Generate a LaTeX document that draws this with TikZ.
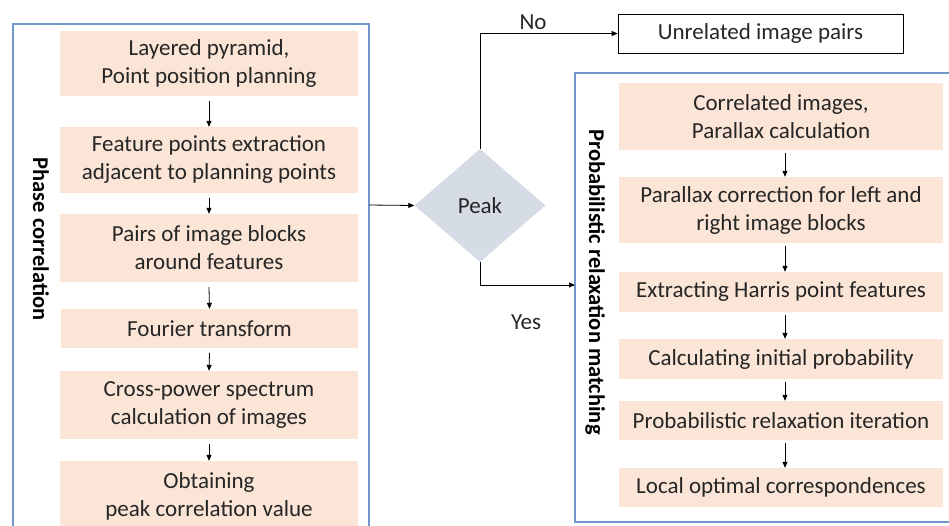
\documentclass[tikz,border=0pt]{standalone}
\usepackage{fontspec}
\setmainfont{Carlito}
\usetikzlibrary{arrows.meta,shapes.geometric}
\definecolor{peach}{HTML}{FBE5D6}
\definecolor{frameblue}{HTML}{7196C9}
\definecolor{diagray}{HTML}{D6DCE5}
\definecolor{txt}{HTML}{262626}
\tikzset{
  pbox/.style={fill=peach, draw=none, inner sep=0pt, align=center, text=txt, font=\fontsize{23}{28}\selectfont},
  frame/.style={draw=frameblue, line width=1.2pt},
  arr/.style={-{Triangle[length=6pt,width=5pt]}, line width=0.8pt, draw=black},
  vlabel/.style={rotate=-90, font=\fontsize{22.5}{26}\selectfont\bfseries, text=black},
  lbl/.style={font=\fontsize{23}{26}\selectfont, text=txt}
}
\begin{document}
\begin{tikzpicture}[x=1pt,y=-1pt]
\useasboundingbox (0,0) rectangle (949,525);
% containers
\draw[frame] (13,540) -- (13,24) -- (369,24) -- (369,540);
\draw[frame] (960,73) -- (575,73) -- (575,522) -- (960,522);
\coordinate (lcR) at (369,205);
\coordinate (rcL) at (575,285);
% left column
\node[pbox, minimum width=298pt, minimum height=65pt] (l1) at (209,63.5) {Layered pyramid,\\Point position planning};
\node[pbox, minimum width=298pt, minimum height=66pt] (l2) at (209,160) {Feature points extraction\\adjacent to planning points};
\node[pbox, minimum width=298pt, minimum height=68pt] (l3) at (209,248) {Pairs of image blocks\\around features};
\node[pbox, minimum width=297pt, minimum height=39pt] (l4) at (209.5,328.5) {Fourier transform};
\node[pbox, minimum width=298pt, minimum height=68pt] (l5) at (209,405) {Cross-power spectrum\\calculation of images};
\node[pbox, minimum width=298pt, minimum height=70pt] (l6) at (209,496) {Obtaining\\peak correlation value};
\node[vlabel] (lt) at (41,239) {Phase correlation};
\foreach \a/\b in {l1/l2,l2/l3,l3/l4,l4/l5,l5/l6}{
  \draw[arr] ([yshift=-5pt]\a.south) -- (\b.north);
}
% diamond
\node[diamond, fill=diagray, draw=none, minimum width=131pt, minimum height=113pt, inner sep=0pt, aspect=1.16, text=txt, font=\fontsize{23}{26}\selectfont] (pk) at (480,205.5) {Peak};
\draw[arr] (lcR) -- (pk.west);
% unrelated
\node[draw=black, line width=0.8pt, minimum width=285pt, minimum height=39pt, inner sep=0pt, text=txt, font=\fontsize{23}{26}\selectfont] (un) at (760.5,33.5) {Unrelated image pairs};
\draw[arr] (pk.north) |- (un.west);
\node[lbl] (no) at (533,22) {No};
\draw[arr] (pk.south) |- (rcL);
\node[lbl] (yes) at (526,322) {Yes};
% right column
\node[pbox, minimum width=324pt, minimum height=67pt] (r1) at (781,116.5) {Correlated images,\\Parallax calculation};
\node[pbox, minimum width=324pt, minimum height=66pt] (r2) at (781,210) {Parallax correction for left and\\right image blocks};
\node[pbox, minimum width=324pt, minimum height=40pt] (r3) at (781,292) {Extracting Harris point features};
\node[pbox, minimum width=324pt, minimum height=40pt] (r4) at (781,359) {Calculating initial probability};
\node[pbox, minimum width=324pt, minimum height=39pt] (r5) at (781,420.5) {Probabilistic relaxation iteration};
\node[pbox, minimum width=324pt, minimum height=39pt] (r6) at (781,487.5) {Local optimal correspondences};
\node[vlabel] (rt) at (595,282) {Probabilistic relaxation matching};
\foreach \a/\b in {r1/r2,r2/r3,r3/r4,r4/r5,r5/r6}{
  \draw[arr] ([xshift=4pt,yshift=-3pt]\a.south) -- ([xshift=4pt]\b.north);
}
\end{tikzpicture}
\end{document}
